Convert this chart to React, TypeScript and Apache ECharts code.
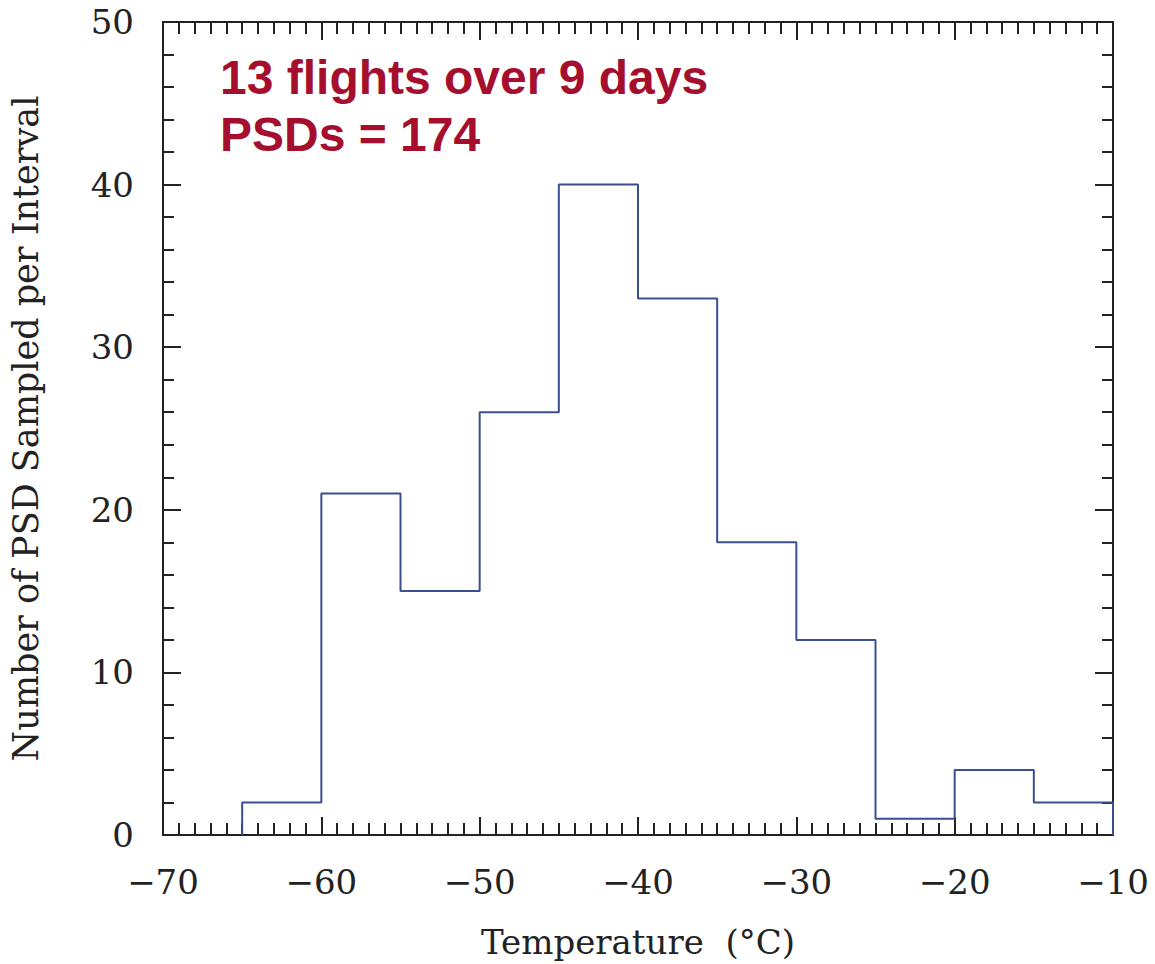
import React, { useEffect, useRef } from "react";
import * as echarts from "echarts";

const binEdges = [-65, -60, -55, -50, -45, -40, -35, -30, -25, -20, -15, -10];
const counts = [2, 21, 15, 26, 40, 33, 18, 12, 1, 4, 2];
const xTicks = [-70, -60, -50, -40, -30, -20, -10];
const yTicks = [0, 10, 20, 30, 40, 50];
const annotation = ["13 flights over 9 days", "PSDs = 174"];

export default function App() {
  const ref = useRef<HTMLDivElement>(null);
  useEffect(() => {
    document.body.style.margin = "0";
    const chart = echarts.init(ref.current!, null, { renderer: "svg" });
    const pts: number[][] = [[binEdges[0], 0]];
    counts.forEach((c, i) => {
      pts.push([binEdges[i], c]);
      pts.push([binEdges[i + 1], c]);
    });
    pts.push([binEdges[binEdges.length - 1], 0]);

    const axisCommon = {
      axisLine: { show: true, onZero: false, lineStyle: { color: "#222", width: 2 } },
      splitLine: { show: false },
    };
    const serif = "DejaVu Serif";
    const xBase = {
      type: "value" as const,
      min: xTicks[0],
      max: xTicks[xTicks.length - 1],
      interval: 10,
      ...axisCommon,
      axisTick: { show: true, inside: true, length: 18, lineStyle: { color: "#222", width: 2 } },
      minorTick: { show: true, splitNumber: 10, length: 12, lineStyle: { color: "#222", width: 2 } },
    };
    const yBase = {
      type: "value" as const,
      min: yTicks[0],
      max: yTicks[yTicks.length - 1],
      interval: 10,
      ...axisCommon,
      axisTick: { show: true, inside: true, length: 18, lineStyle: { color: "#222", width: 2 } },
      minorTick: { show: true, splitNumber: 5, length: 11, lineStyle: { color: "#222", width: 2 } },
    };

    chart.setOption({
      animation: false,
      backgroundColor: "#fff",
      grid: { left: 162, top: 22, right: 42, bottom: 129, containLabel: false },
      xAxis: [
        {
          ...xBase,
          position: "bottom",
          name: "Temperature  (°C)",
          nameLocation: "middle",
          nameGap: 90,
          nameTextStyle: { fontFamily: serif, fontSize: 34, color: "#222" },
          axisLabel: {
            margin: 30,
            fontFamily: serif,
            fontSize: 34,
            color: "#222",
            formatter: (v: number) => String(v).replace("-", "\u2212"),
          },
        },
        { ...xBase, position: "top", axisLabel: { show: false } },
      ],
      yAxis: [
        {
          ...yBase,
          position: "left",
          name: "Number of PSD Sampled per Interval",
          nameLocation: "middle",
          nameGap: 120,
          nameRotate: 90,
          nameTextStyle: { fontFamily: serif, fontSize: 35, color: "#222" },
          axisLabel: { margin: 29, fontFamily: serif, fontSize: 34, color: "#222" },
        },
        { ...yBase, position: "right", axisLabel: { show: false } },
      ],
      series: [
        {
          type: "line",
          data: pts,
          symbol: "none",
          lineStyle: { color: "#3b4f8e", width: 2 },
          xAxisIndex: 0,
          yAxisIndex: 0,
        },
      ],
      graphic: annotation.map((t, i) => ({
        type: "text",
        left: 220,
        top: 53 + i * 57,
        style: {
          text: t,
          fontFamily: "Liberation Sans",
          fontWeight: "bold",
          fontSize: 48,
          fill: "#a50f2d",
        },
      })),
    });
    return () => chart.dispose();
  }, []);
  return <div ref={ref} style={{ width: 1155, height: 964 }} />;
}
